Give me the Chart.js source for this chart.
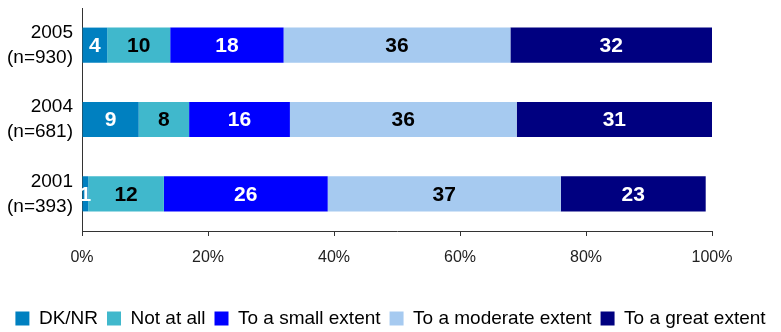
<!DOCTYPE html>
<html>
<head>
<meta charset="utf-8">
<script src="https://cdn.jsdelivr.net/npm/chart.js@4.4.1/dist/chart.umd.min.js"></script>
<style>
  html, body { margin: 0; padding: 0; background: #fff; }
  #wrap { width: 781px; height: 332px; position: relative; }
</style>
</head>
<body>
<div id="wrap"><canvas id="c" width="781" height="332"></canvas></div>
<script>
// Survey years with sample sizes (two-line category labels)
const years = [['2005', '(n=930)'], ['2004', '(n=681)'], ['2001', '(n=393)']];

// Share of responses per answer (percent)
const dkNr           = [4, 9, 1];
const notAtAll       = [10, 8, 12];
const smallExtent    = [18, 16, 26];
const moderateExtent = [36, 36, 37];
const greatExtent    = [32, 31, 23];

const xTicks = [0, 20, 40, 60, 80, 100];

const series = [
  { label: 'DK/NR',                data: dkNr,           color: '#0080C0', text: '#FFFFFF' },
  { label: 'Not at all',           data: notAtAll,       color: '#40B8CC', text: '#000000' },
  { label: 'To a small extent',    data: smallExtent,    color: '#0000FF', text: '#FFFFFF' },
  { label: 'To a moderate extent', data: moderateExtent, color: '#A6CAF0', text: '#000000' },
  { label: 'To a great extent',    data: greatExtent,    color: '#000080', text: '#FFFFFF' }
];

const FONT = "'Liberation Sans', Arial, Helvetica, sans-serif";

// Value labels centred inside each bar segment
const segmentLabels = {
  id: 'segmentLabels',
  afterDatasetsDraw(chart) {
    const ctx = chart.ctx;
    ctx.save();
    ctx.font = 'bold 21px ' + FONT;
    ctx.textAlign = 'center';
    ctx.textBaseline = 'middle';
    chart.data.datasets.forEach((ds, i) => {
      const meta = chart.getDatasetMeta(i);
      meta.data.forEach((bar, j) => {
        const cx = (bar.x + bar.base) / 2;
        ctx.fillStyle = ds.labelColor;
        ctx.fillText(String(ds.data[j]), cx, bar.y + 1);
      });
    });
    ctx.restore();
  }
};

// Nudge the legend row a little lower inside the canvas
const legendOffset = {
  id: 'legendOffset',
  afterLayout(chart) {
    const l = chart.legend;
    if (l) { l.top += 6; l.bottom += 6; }
  }
};

const noEdgePadding = scale => {
  scale.paddingTop = 0;
  scale.paddingBottom = 0;
};

new Chart(document.getElementById('c'), {
  type: 'bar',
  data: {
    labels: years,
    datasets: series.map(s => ({
      label: s.label,
      data: s.data,
      backgroundColor: s.color,
      borderWidth: 0,
      labelColor: s.text,
      barPercentage: 0.473,
      categoryPercentage: 1
    }))
  },
  options: {
    indexAxis: 'y',
    responsive: false,
    animation: false,
    layout: { padding: { top: 8, right: 0, bottom: 0, left: 0 } },
    plugins: {
      legend: {
        position: 'bottom',
        labels: {
          font: { family: FONT, size: 19 },
          color: '#000',
          boxWidth: 14,
          boxHeight: 14,
          padding: 9
        }
      },
      tooltip: { enabled: false }
    },
    scales: {
      x: {
        stacked: true,
        min: 0,
        max: 100,
        afterBuildTicks(scale) {
          scale.ticks = xTicks.map(v => ({ value: v }));
        },
        ticks: {
          callback: v => v + '%',
          font: { family: FONT, size: 16 },
          color: '#222',
          padding: 12,
          maxRotation: 0
        },
        grid: {
          drawOnChartArea: false,
          drawTicks: true,
          tickLength: 5,
          color: '#333'
        },
        border: { display: true, color: '#333', width: 1 },
        afterFit(scale) { scale.height = 63; }
      },
      y: {
        stacked: true,
        ticks: {
          autoSkip: false,
          font: { family: FONT, size: 19, lineHeight: 1.32 },
          color: '#000',
          padding: 9
        },
        grid: { display: false, drawTicks: false },
        border: { display: true, color: '#333', width: 1 },
        afterFit(scale) { scale.width = 82; noEdgePadding(scale); }
      },
      // empty right-hand margin beside the plot
      yRight: {
        type: 'linear',
        position: 'right',
        display: true,
        ticks: { display: false },
        grid: { display: false },
        border: { display: false },
        afterFit(scale) { scale.width = 69; noEdgePadding(scale); }
      }
    }
  },
  plugins: [segmentLabels, legendOffset]
});
</script>
</body>
</html>
